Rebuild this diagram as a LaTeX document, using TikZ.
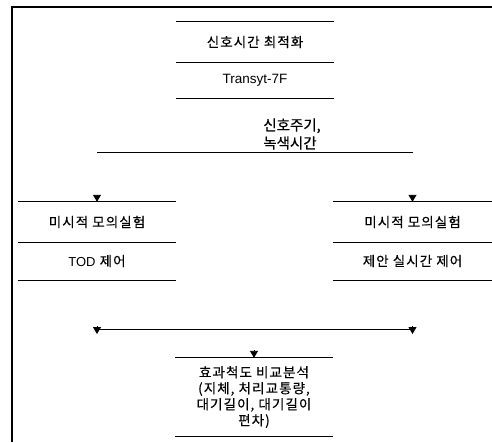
\documentclass[tikz,border=0pt]{standalone}
\usepackage{fontspec}
\setmainfont{Liberation Sans}
\newfontfamily\kr[LetterSpace=8,FakeBold=0.35]{Noto Sans CJK KR}
\newfontfamily\krl[FakeBold=0.4]{Noto Sans CJK KR}
\usetikzlibrary{arrows.meta}
\begin{document}
\begin{tikzpicture}[x=1pt,y=-1pt,
  boxn/.style={minimum width=158pt, inner sep=0pt, align=center, font=\fontsize{13.5}{16}\selectfont\kr},
  rule/.style={line width=0.9pt},
  arr/.style={line width=0.9pt, -{Triangle[width=8pt,length=7pt]}},
]
\useasboundingbox (0,0) rectangle (492,442);
% frame
\draw[line width=1.1pt] (12,442) -- (12,7) -- (492,7);

% top boxes
\node[boxn, minimum height=40pt] (t1) at (255,42) {신호시간 최적화};
\node[boxn, minimum height=36pt, font=\fontsize{13.5}{16}\selectfont] (t2) at (255,80) {Transyt-7F};
\draw[rule] (t1.north west) -- (t1.north east);
\draw[rule] (t1.south west) -- (t1.south east);
\draw[rule] (t2.south west) -- (t2.south east);

% label
\node[inner sep=0pt, align=left, font=\fontsize{14.5}{18}\selectfont\krl] (lab) at (292,134) {신호주기,\\녹색시간};

% split line
\coordinate (sL) at (97,152);
\coordinate (sR) at (412.5,152);
\draw[rule] (sL) -- (sR);

% left boxes
\node[boxn, minimum height=40pt] (l1) at (97,222) {미시적 모의실험};
\node[boxn, minimum height=38pt] (l2) at (97,261) {{\fontsize{13}{16}\selectfont\rmfamily TOD} 제어};
\draw[rule] (l1.north west) -- (l1.north east);
\draw[rule] (l1.south west) -- (l1.south east);
\draw[rule] (l2.south west) -- (l2.south east);

% right boxes
\node[boxn, minimum width=159pt, minimum height=40pt] (r1) at (412.5,222) {미시적 모의실험};
\node[boxn, minimum width=159pt, minimum height=38pt] (r2) at (412.5,261) {제안 실시간 제어};
\draw[rule] (r1.north west) -- (r1.north east);
\draw[rule] (r1.south west) -- (r1.south east);
\draw[rule] (r2.south west) -- (r2.south east);

% arrows into the simulation boxes
\draw[arr, shorten <=43pt] (sL) -- (l1.north);
\draw[arr, shorten <=43pt] (sR) -- (r1.north);

% merge line
\coordinate (mL) at (97,329);
\coordinate (mR) at (412.5,329);
\coordinate (mC) at (254,329);
\coordinate (aL) at (97,334);
\coordinate (aR) at (412.5,334);
\draw[rule] (mL) -- (mR);
\draw[arr, shorten <=46pt] (l2.south) -- (aL);
\draw[arr, shorten <=46pt] (r2.south) -- (aR);

% bottom box
\node[boxn, minimum height=78pt] (b) at (254,397) {효과척도 비교분석\\(지체, 처리교통량,\\대기길이, 대기길이\\편차)};
\draw[rule] (b.north west) -- (b.north east);
\draw[rule] (b.south west) -- (b.south east);
\draw[arr, shorten <=21pt] (mC) -- (b.north);
\end{tikzpicture}
\end{document}
